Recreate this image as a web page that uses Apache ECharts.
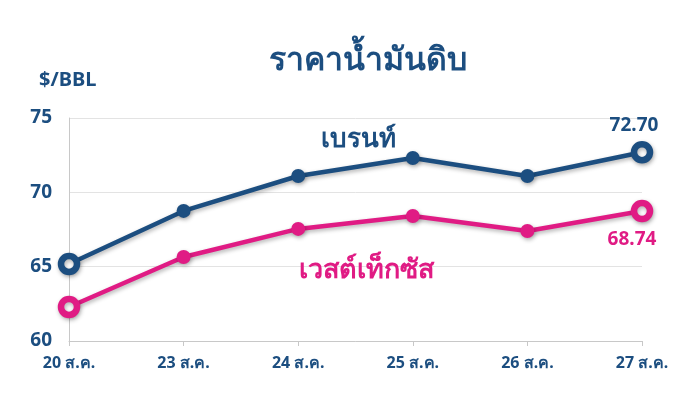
<!DOCTYPE html>
<html><head><meta charset="utf-8">
<script src="https://cdn.jsdelivr.net/npm/echarts@6/dist/echarts.min.js"></script>
<style>html,body{margin:0;padding:0;background:#fff}#c{width:688px;height:404px}</style>
</head><body><div id="c"></div>
<script>
const categories = ['20 ส.ค.', '23 ส.ค.', '24 ส.ค.', '25 ส.ค.', '26 ส.ค.', '27 ส.ค.'];
const brent = [65.18, 68.75, 71.10, 72.31, 71.10, 72.70];
const wti = [62.29, 65.65, 67.54, 68.41, 67.40, 68.74];
const yTicks = [60, 65, 70, 75];

const NAVY = '#1c4e80', PINK = '#e01b84';
const FONT = "Tahoma, 'Noto Sans', 'DejaVu Sans', sans-serif";

function mk(vals, color, labelPos, labelOffset) {
  return vals.map((v, i) => {
    const end = (i === 0 || i === vals.length - 1);
    const o = { value: v };
    if (end) {
      o.symbolSize = 16;
      o.itemStyle = { color: '#fff', borderColor: color, borderWidth: 6.5 };
    }
    if (i === vals.length - 1) {
      o.label = { show: true, position: labelPos, distance: 6, offset: labelOffset,
        formatter: p => p.value.toFixed(2),
        color: color, fontWeight: 'bold', fontSize: 19, fontFamily: FONT };
    }
    return o;
  });
}

const shadow = { shadowColor: 'rgba(0,0,0,0.3)', shadowBlur: 4, shadowOffsetY: 2, shadowOffsetX: 1 };

const chart = echarts.init(document.getElementById('c'), null, { renderer: 'canvas' });
chart.setOption({
  animation: false,
  backgroundColor: '#fff',
  title: [
    { text: 'ราคาน้ำมันดิบ', left: 264, top: 40, textStyle: { color: NAVY, fontSize: 32, fontWeight: 'bold', fontFamily: FONT } },
    { text: '$/BBL', left: 34, top: 65, textStyle: { color: NAVY, fontSize: 20, fontWeight: 'bold', fontFamily: FONT } },
    { text: 'เบรนท์', left: 316, top: 122, textStyle: { color: NAVY, fontSize: 26, fontWeight: 'bold', fontFamily: FONT } },
    { text: 'เวสต์เท็กซัส', left: 294, top: 252, textStyle: { color: PINK, fontSize: 27, fontWeight: 'bold', fontFamily: FONT } }
  ],
  grid: { left: 69, right: 46, top: 118, bottom: 63, containLabel: false },
  xAxis: {
    type: 'category', data: categories, boundaryGap: false,
    axisLine: { lineStyle: { color: '#c8c8c8' } },
    axisTick: { show: true, alignWithLabel: true, length: 5, lineStyle: { color: '#c8c8c8' } },
    axisLabel: { color: NAVY, fontWeight: 'bold', fontSize: 16, fontFamily: FONT, margin: 14 }
  },
  yAxis: {
    type: 'value', min: yTicks[0], max: yTicks[yTicks.length - 1], interval: 5,
    axisLine: { show: true, lineStyle: { color: '#c8c8c8' } },
    axisTick: { show: false },
    splitLine: { lineStyle: { color: '#e3e3e3' } },
    axisLabel: { color: NAVY, fontWeight: 'bold', fontSize: 19, fontFamily: FONT, margin: 17 }
  },
  series: [
    { name: 'เบรนท์', type: 'line', data: mk(brent, NAVY, 'top', [-8, 0]), symbol: 'circle', symbolSize: 14,
      lineStyle: Object.assign({ color: NAVY, width: 4.5 }, shadow),
      itemStyle: Object.assign({ color: NAVY }, shadow) },
    { name: 'เวสต์เท็กซัส', type: 'line', data: mk(wti, PINK, 'bottom', [-10, 2]), symbol: 'circle', symbolSize: 14,
      lineStyle: Object.assign({ color: PINK, width: 4.5 }, shadow),
      itemStyle: Object.assign({ color: PINK }, shadow) }
  ]
});
</script></body></html>
